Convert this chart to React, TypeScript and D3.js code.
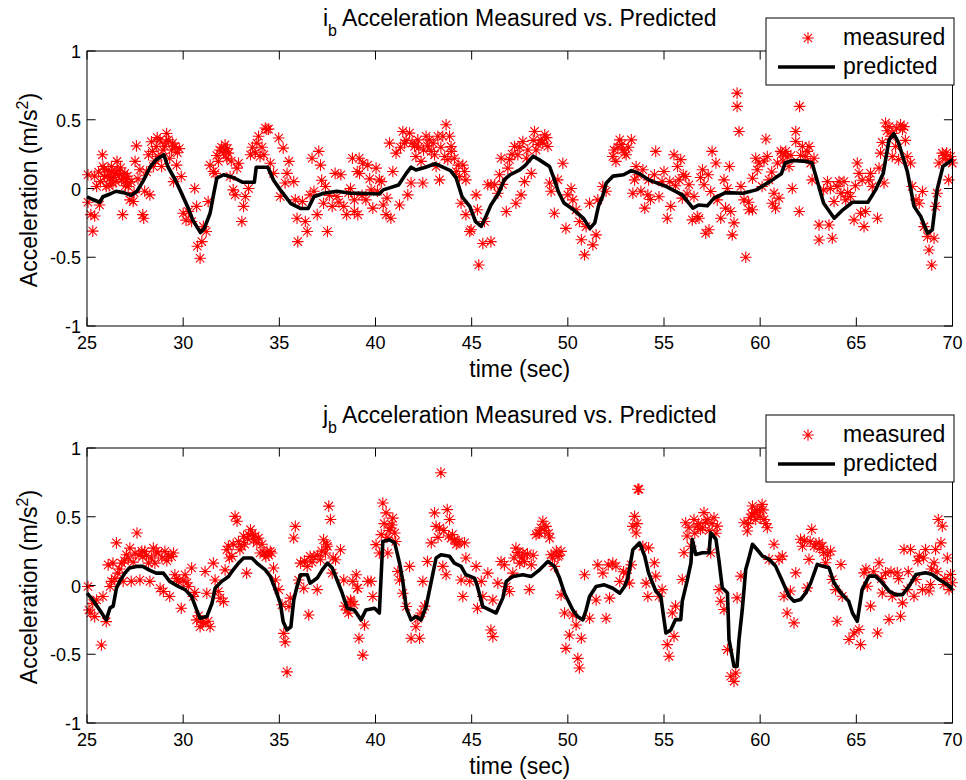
import React from "react";
import * as d3 from "d3";

const xTicks = [25, 30, 35, 40, 45, 50, 55, 60, 65, 70];
const yTicks = [-1, -0.5, 0, 0.5, 1];
const yTickLabels = ["-1", "-0.5", "0", "0.5", "1"];
const legendLabels = ["measured", "predicted"];
const titles = ["i", "j"];

const topMeasured: [number, number][] = [
  [25.05,0.10],[25.05,-0.10],[25.2,-0.19],[25.3,-0.31],[25.4,-0.20],[25.4,0.09],[25.5,0.015],[25.65,-0.12],[25.8,0.245],[25.83,0.16],[25.92,0.087],[26.0,0.015],[26.1,0.136],[26.2,0.075],[26.27,0.16],[26.35,0.04],[26.45,0.11],[26.56,0.197],[26.7,0.10],[26.8,0.063],[26.85,-0.19],[26.97,0.11],[27.05,0.063],[27.14,0.015],[27.23,-0.083],[27.4,-0.095],[27.5,0.197],[27.57,0.31],[27.75,0.136],[27.9,-0.19],[27.95,-0.216],[28.0,-0.02],[28.2,0.245],[28.27,-0.046],[28.35,0.34],[28.45,0.16],[28.6,0.306],[28.7,0.233],[28.8,0.354],[28.88,0.16],[29.05,0.306],[29.14,0.40],[29.23,0.354],[29.4,0.28],[29.5,0.05],[29.57,0.306],[29.66,0.17],[29.8,0.29],[29.9,0.087],[30.0,-0.18],[30.15,-0.23],[30.27,-0.167],[30.44,-0.24],[30.6,0.0],[30.7,-0.13],[30.74,-0.42],[30.88,-0.507],[30.97,-0.386],[31.05,-0.277],[31.2,-0.313],[31.3,-0.095],[31.4,0.17],[31.57,0.124],[31.66,0.11],[31.83,0.197],[31.9,0.28],[32.1,0.257],[32.18,0.318],[32.27,0.22],[32.35,0.257],[32.44,0.087],[32.6,-0.01],[32.7,-0.046],[32.8,0.148],[32.88,0.184],[33.05,-0.24],[33.14,-0.13],[33.23,-0.058],[33.4,0.0],[33.5,0.245],[33.83,0.33],[33.92,0.38],[34.0,0.233],[34.2,0.245],[34.27,0.44],[34.44,0.432],[34.53,0.184],[34.7,0.11],[34.97,0.367],[35.05,-0.058],[35.2,0.294],[35.3,0.04],[35.5,0.197],[35.75,0.05],[35.83,-0.083],[35.92,-0.216],[35.96,-0.386],[36.2,-0.095],[36.35,-0.24],[36.45,-0.313],[36.6,-0.046],[36.7,0.22],[36.97,-0.19],[37.05,0.27],[37.14,0.17],[37.3,-0.107],[37.4,0.015],[37.5,-0.313],[37.75,-0.13],[37.9,0.11],[38.0,-0.058],[38.2,0.10],[38.35,-0.13],[38.5,-0.19],[38.7,0.0],[38.9,-0.083],[39.05,0.124],[39.15,0.22],
  [38.8,0.22],[38.9,-0.167],[39.08,-0.19],[39.17,0.11],[39.34,0.184],[39.5,-0.083],[39.6,0.17],[39.77,-0.01],[39.86,-0.143],[40.03,0.148],[40.2,0.063],[40.4,-0.12],[40.55,-0.19],[40.73,0.33],[40.8,-0.216],[40.9,0.124],[41.07,0.257],[41.25,-0.12],[41.42,0.415],[41.5,0.33],[41.68,-0.046],[41.77,0.403],[41.85,0.04],[42.03,0.306],[42.1,0.233],[42.2,0.354],[42.37,0.197],[42.46,0.04],[42.63,0.38],[42.8,0.354],[43.07,0.245],[43.15,0.16],[43.24,0.38],[43.33,0.063],[43.5,0.38],[43.6,0.233],[43.67,0.464],[43.76,0.21],[43.85,0.38],[43.93,0.306],[44.1,0.22],[44.2,0.124],[44.37,0.087],[44.54,0.17],[44.63,0.124],[44.7,0.063],[44.45,-0.107],[44.7,-0.19],[44.9,-0.313],[44.97,-0.30],[45.23,-0.046],[45.3,-0.155],[45.37,-0.556],[45.58,-0.40],[45.67,-0.24],[45.84,0.027],[46.0,-0.386],[46.0,0.027],[46.2,0.027],[46.36,-0.034],[46.53,0.22],[46.8,-0.167],[46.88,0.148],[46.97,0.21],[47.23,0.306],[47.3,-0.107],[47.4,0.245],[47.57,-0.046],[47.66,0.342],[47.75,0.05],[47.92,0.28],[48.1,0.11],[48.27,0.415],[48.35,0.28],[48.6,0.354],[48.8,0.39],[48.96,0.306],[49.05,0.04],[49.13,-0.02],[49.3,-0.18],[49.48,0.063],[49.74,0.184],[49.9,-0.29],[50.0,-0.046],[50.17,0.0],[50.26,-0.083],[50.43,-0.155],[50.6,-0.24],[50.7,-0.373],[50.87,-0.483],[50.95,-0.277],[51.13,-0.107],[51.3,-0.41],[51.47,-0.337],[51.56,-0.083],[51.82,0.015],[51.99,-0.02],[52.34,0.233],[52.5,0.197],[52.7,0.354],[52.86,0.28],[53.03,0.245],[53.3,0.354],[53.38,-0.034],[53.47,0.063],[53.55,0.16],[53.8,-0.02],[53.9,0.136],[54.0,-0.143],[54.16,-0.046],
  [54.2,0.063],[54.3,-0.08],[54.5,0.10],[54.57,0.27],[54.74,-0.06],[54.9,0.05],[55.0,0.124],[55.17,-0.216],[55.35,-0.13],[55.52,0.245],[55.7,0.16],[55.78,0.063],[55.87,0.21],[55.95,-0.07],[56.13,0.087],[56.3,0.027],[56.47,-0.228],[56.56,-0.058],[56.73,-0.204],[56.82,-0.216],[57.0,0.136],[57.08,0.027],[57.17,-0.325],[57.34,-0.30],[57.43,-0.022],[57.5,0.27],[57.7,0.185],[57.77,-0.083],[57.95,-0.216],[58.12,0.063],[58.2,-0.143],[58.4,0.16],[58.47,-0.167],[58.55,-0.337],[58.64,-0.25],[58.8,0.694],[58.8,0.597],[58.9,0.415],[59.0,0.015],[59.16,-0.083],[59.25,-0.50],[59.42,-0.155],[59.6,-0.155],[59.6,0.075],[59.77,0.22],[59.85,0.136],[59.94,0.185],[60.1,0.015],[60.3,0.36],[60.37,0.233],[60.46,0.063],[60.63,-0.107],[60.72,-0.034],[60.8,-0.143],[60.9,0.185],[60.98,-0.07],[61.07,0.27],[61.15,0.257],[61.33,0.27],[61.5,0.16],[61.67,0.0],[61.85,0.342],[61.85,0.415],[62.03,-0.167],[62.05,0.597],[62.2,0.306],[62.37,0.233],[62.54,0.306],[62.63,0.185],[62.7,0.063],[63.06,-0.265],[63.06,-0.374],[63.3,-0.01],[63.5,0.05],[63.58,-0.265],[63.75,-0.362],[63.84,-0.095],[64.0,0.015],[64.2,-0.034],[64.36,0.05],[64.45,-0.083],[64.7,-0.058],[64.88,-0.228],[65.05,0.185],[65.14,0.11],[65.22,-0.18],[65.4,-0.277],[65.48,-0.167],[65.66,0.063],[65.74,0.11],[65.83,0.015],[66.1,-0.216],[66.18,0.148],[66.26,0.257],[66.35,0.335],[66.44,0.04],[66.52,0.476],[66.7,0.45],[66.78,0.38],[66.87,0.233],[67.04,0.306],[67.2,0.21],[67.3,0.464],[67.48,0.45],[67.65,0.233],[67.82,0.185],[67.9,0.015],[68.1,-0.083],[68.27,-0.107],[68.44,-0.022],[68.52,-0.277],[68.7,-0.35],[68.78,-0.447],[68.92,-0.556],[69.04,-0.362],[69.12,-0.13],[69.2,-0.034],[69.3,0.185],[69.47,0.257],[69.65,0.22],[69.8,0.063],[69.9,0.233],[69.99,0.185]
];

const topMeasuredDense: [number, number][] = [
  [25.6,0.12],[25.7,0.05],[25.9,0.14],[26.05,0.09],[26.15,0.02],[26.3,0.12],[26.4,0.08],[26.5,0.05],[26.6,0.13],[26.75,0.15],[26.9,0.07],[27.0,0.02],[27.1,0.09],[27.3,0.05],[27.45,-0.03],[27.65,0.07],[28.1,0.12],[28.4,0.27],[28.55,0.2],[28.65,0.37],[28.95,0.28],[29.1,0.34],[29.3,0.22],[29.45,0.33],[29.7,0.26],[31.75,0.24],[32.0,0.3],[32.2,0.27],[32.3,0.29],[32.5,0.2],[33.6,0.3],[33.75,0.26],[34.1,0.3],[34.35,0.43],[35.4,0.11],[36.8,-0.02],[37.2,0.06],[37.6,-0.05],[38.1,-0.1],[38.6,-0.03],[39.3,-0.05],[39.7,0.07],[40.1,-0.02],[40.3,0.05],[40.6,-0.07],[41.3,0.3],[41.6,0.35],[41.9,0.33],[42.25,0.3],[42.5,0.28],[42.7,0.31],[42.9,0.27],[43.0,0.33],[43.4,0.3],[43.95,0.27],[44.3,0.17],[46.6,0.03],[46.45,0.1],[47.1,0.25],[47.5,0.3],[47.85,0.22],[48.2,0.35],[48.45,0.32],[48.7,0.33],[48.9,0.37],[52.4,0.28],[52.6,0.3],[52.8,0.32],[52.95,0.26],[53.15,0.3],[53.65,0.1],[55.3,0.05],[55.6,0.02],[56.0,0.1],[56.2,-0.04],[56.9,0.08],[57.3,0.1],[58.3,0.0],[59.4,-0.1],[60.2,0.2],[60.6,0.12],[61.2,0.2],[61.4,0.23],[61.6,0.24],[62.1,0.24],[62.45,0.27],[62.8,0.22],[63.65,0.0],[64.1,0.05],[64.55,-0.03],[64.95,0.02],[65.3,0.06],[66.6,0.42],[66.9,0.4],[67.1,0.44],[67.4,0.43],[67.55,0.35],[69.55,0.24],[69.7,0.26],[69.85,0.2]
];

const topPredicted: [number, number][] = [
  [25,-0.06],[25.3,-0.08],[25.66,-0.10],[25.83,-0.06],[26.2,-0.04],[26.5,-0.02],[26.9,-0.03],[27.3,-0.05],[27.6,-0.02],[27.9,0.05],[28.3,0.16],[28.6,0.21],[29.0,0.245],[29.2,0.16],[29.6,0.06],[29.9,-0.03],[30.3,-0.155],[30.5,-0.23],[30.9,-0.32],[31.1,-0.29],[31.4,-0.18],[31.6,-0.03],[31.75,0.075],[32.1,0.10],[32.6,0.08],[33.1,0.045],[33.7,0.045],[33.8,0.155],[34.4,0.155],[34.7,0.06],[35.05,-0.01],[35.6,-0.11],[36.1,-0.145],[36.5,-0.145],[36.8,-0.06],[37.3,-0.035],[38.0,-0.02],[38.7,-0.035],[39.2,-0.035],[40.2,-0.04],[40.4,-0.01],[41.2,0.025],[41.6,0.11],[41.85,0.155],[42.1,0.135],[42.6,0.155],[43.1,0.18],[43.5,0.155],[43.9,0.13],[44.2,0.075],[44.5,-0.06],[44.9,-0.13],[45.2,-0.24],[45.5,-0.275],[45.75,-0.2],[46.0,-0.12],[46.4,-0.035],[46.7,0.065],[47.0,0.10],[47.5,0.135],[47.8,0.17],[48.2,0.235],[48.5,0.21],[49.05,0.16],[49.3,0.065],[49.5,-0.02],[49.8,-0.105],[50.3,-0.155],[50.8,-0.215],[51.15,-0.29],[51.4,-0.25],[51.6,-0.125],[51.8,-0.06],[52.0,0.04],[52.35,0.09],[52.9,0.10],[53.3,0.13],[53.7,0.11],[54.2,0.063],[55.1,0.015],[55.95,-0.046],[56.5,-0.143],[56.8,-0.12],[57.25,-0.126],[57.6,-0.07],[58.2,-0.03],[59.1,-0.034],[59.8,-0.01],[60.5,0.05],[61.1,0.107],[61.3,0.185],[61.7,0.204],[62.4,0.197],[62.7,0.185],[63.05,0.015],[63.3,-0.107],[63.85,-0.216],[64.3,-0.155],[64.8,-0.10],[65.6,-0.10],[66.0,-0.01],[66.4,0.11],[66.7,0.354],[66.95,0.398],[67.2,0.33],[67.65,0.124],[68.0,-0.13],[68.35,-0.204],[68.7,-0.325],[68.95,-0.30],[69.2,-0.01],[69.5,0.16],[70.0,0.21]
];

const bottomMeasured: [number, number][] = [
  [25.05,-0.007],[25.1,-0.178],[25.2,-0.2],[25.3,-0.13],[25.4,-0.226],[25.5,-0.105],[25.75,-0.433],[25.83,-0.08],[26.0,-0.263],[26.1,0.15],[26.2,-0.007],[26.27,0.03],[26.35,0.163],[26.53,0.31],[26.6,0.09],[26.8,0.163],[26.88,0.03],[27.05,0.224],[27.23,0.272],[27.3,0.03],[27.5,0.236],[27.6,0.382],[27.75,0.04],[27.9,0.212],[28.0,0.248],[28.2,0.163],[28.27,0.03],[28.45,0.272],[28.53,0.163],[28.7,0.236],[28.8,-0.02],[28.97,-0.044],[29.05,0.248],[29.23,0.212],[29.3,-0.08],[29.5,0.236],[29.57,0.078],[29.75,0.03],[29.9,-0.165],[30.1,0.078],[30.27,-0.007],[30.44,0.127],[30.53,-0.08],[30.7,-0.25],[30.88,-0.3],[31.05,-0.263],[31.14,0.102],[31.23,-0.056],[31.4,-0.3],[31.57,0.163],[31.66,0.04],[31.83,-0.044],[31.92,-0.092],[32.1,-0.117],[32.18,0.114],[32.27,0.26],[32.35,0.285],[32.53,0.212],[32.7,0.503],[32.8,0.467],[32.88,0.32],[33.05,0.285],[33.14,0.358],[33.3,0.09],[33.4,0.37],[33.5,0.406],[33.66,0.333],[33.83,0.31],[33.92,0.345],[34.0,0.236],[34.2,0.236],[34.36,0.248],[34.53,0.248],[34.6,0.236],[34.7,0.127],[34.8,0.04],[34.97,-0.03],[35.14,-0.14],[35.23,-0.348],[35.3,-0.41],[35.4,-0.628],[35.5,-0.153],[35.57,-0.092],[35.75,0.345],[35.83,0.43],[36.0,0.04],[36.1,0.163],[36.27,-0.02],[36.45,0.139],[36.53,-0.214],[36.6,0.212],[36.8,0.212],[36.97,-0.03],[37.14,0.187],[37.3,0.333],[37.4,0.236],[37.5,0.285],[37.57,0.577],[37.66,0.48],[37.75,0.09],[37.92,0.187],[38.18,0.26],[38.35,0.04],[38.53,-0.178],[38.7,-0.105],[38.88,-0.14],[39.05,-0.02],[39.14,-0.384],
  [38.73,-0.117],[38.82,0.03],[39.0,0.078],[39.08,-0.02],[39.34,-0.506],[39.43,-0.287],[39.6,0.03],[39.77,0.03],[39.86,-0.08],[40.03,0.297],[40.2,0.236],[40.3,0.37],[40.38,0.6],[40.55,0.528],[40.64,0.236],[40.8,0.418],[40.9,0.49],[41.0,0.382],[41.16,0.102],[41.25,0.04],[41.42,-0.056],[41.6,-0.153],[41.77,0.139],[41.85,-0.384],[42.1,-0.3],[42.29,-0.384],[42.37,-0.2],[42.46,0.03],[42.7,0.175],[42.9,0.31],[43.07,0.528],[43.15,0.43],[43.33,0.418],[43.4,0.82],[43.5,0.139],[43.67,0.078],[43.73,0.552],[43.85,0.48],[43.93,0.345],[44.1,0.333],[44.28,0.31],[44.45,0.04],[44.63,0.31],[44.54,-0.08],[44.7,0.2],[44.9,0.03],[45.23,0.139],[45.3,-0.165],[45.5,0.03],[45.58,-0.08],[45.84,0.09],[46.0,-0.324],[46.1,-0.372],[46.1,-0.105],[46.36,0.017],[46.53,0.175],[46.7,0.15],[46.8,-0.007],[46.97,-0.044],[47.14,0.09],[47.3,0.272],[47.5,0.163],[47.66,0.236],[47.75,0.175],[48.0,-0.03],[48.1,0.15],[48.35,0.37],[48.53,0.382],[48.7,0.467],[48.87,0.43],[49.05,0.345],[49.13,0.224],[49.3,0.139],[49.48,0.212],[49.65,0.248],[49.65,-0.068],[49.83,-0.2],[49.9,-0.457],[50.08,-0.36],[50.26,-0.214],[50.43,-0.287],[50.52,-0.53],[50.6,-0.6],[50.7,-0.384],[50.87,0.078],[51.13,-0.238],[51.47,-0.105],[51.56,0.15],[51.82,0.09],[51.99,-0.238],[52.17,-0.092],[52.34,0.163],[52.7,0.03],[53.03,0.09],[53.2,0.017],[53.38,0.43],[53.47,0.503],[53.64,0.7],[53.7,0.7],[53.55,0.382],[53.9,0.285],[54.07,0.017],[54.16,-0.08],
  [54.2,0.274],[54.5,0.165],[54.57,0.068],[54.74,-0.078],[54.9,-0.03],[55.17,-0.43],[55.26,-0.515],[55.43,-0.2],[55.52,-0.37],[55.6,-0.15],[55.95,0.044],[56.04,0.238],[56.13,0.456],[56.2,0.36],[56.4,0.286],[56.56,0.48],[56.73,0.432],[56.9,0.408],[57.08,0.53],[57.25,0.48],[57.43,0.238],[57.6,0.493],[57.77,0.432],[57.86,-0.03],[57.95,-0.114],[58.12,-0.175],[58.3,-0.466],[58.47,-0.66],[58.64,-0.697],[58.73,-0.636],[58.8,-0.09],[59.0,0.068],[59.16,0.456],[59.33,0.396],[59.5,0.493],[59.6,0.578],[59.77,0.48],[59.94,0.553],[60.1,0.59],[60.2,0.48],[60.37,0.42],[60.46,0.19],[60.72,0.3],[60.98,0.19],[61.15,0.214],[61.24,-0.078],[61.4,-0.2],[61.57,-0.04],[61.76,-0.272],[61.85,0.092],[62.1,0.336],[62.2,0.286],[62.45,-0.017],[62.54,0.19],[62.68,0.408],[62.8,0.286],[63.06,0.31],[63.23,0.286],[63.4,0.165],[63.66,0.25],[63.75,0.044],[63.92,-0.03],[64.0,-0.26],[64.2,0.153],[64.27,-0.078],[64.62,-0.393],[64.88,-0.345],[65.14,-0.32],[65.22,-0.43],[65.4,0.092],[65.57,-0.005],[65.74,-0.15],[66.1,-0.345],[66.18,0.165],[66.35,-0.054],[66.52,0.092],[66.7,-0.248],[66.87,-0.078],[67.13,0.092],[67.3,-0.224],[67.4,-0.126],[67.48,0.262],[67.65,-0.03],[67.82,0.262],[68.0,-0.078],[68.1,0.044],[68.27,0.214],[68.44,-0.03],[68.6,0.262],[68.78,-0.04],[68.86,0.007],[69.04,0.165],[69.12,0.262],[69.26,0.48],[69.4,0.31],[69.47,0.432],[69.55,0.007],[69.73,0.2],[69.82,-0.03],[69.98,0.02]
];

const bottomMeasuredDense: [number, number][] = [
  [26.45,0.05],[26.7,0.12],[26.95,0.18],[27.15,0.2],[27.4,0.17],[27.7,0.22],[27.85,0.25],[28.1,0.22],[28.35,0.2],[28.6,0.25],[28.9,0.2],[29.15,0.18],[29.4,0.21],[29.65,0.05],[30.0,0.04],[30.2,0.02],[30.6,-0.05],[30.8,-0.22],[31.0,-0.27],[31.3,-0.26],[32.4,0.2],[32.6,0.3],[32.95,0.26],[33.2,0.3],[33.35,0.34],[33.6,0.38],[33.75,0.36],[34.1,0.3],[34.3,0.21],[34.45,0.22],[36.3,0.18],[36.7,0.17],[37.0,0.22],[37.2,0.25],[37.45,0.3],[37.8,0.2],[38.4,-0.15],[38.6,-0.2],[40.45,0.45],[40.6,0.35],[40.7,0.4],[40.85,0.44],[41.05,0.32],[42.2,-0.24],[42.55,-0.15],[43.25,0.35],[43.55,0.4],[43.8,0.36],[44.0,0.37],[44.2,0.3],[44.35,0.32],[47.2,0.2],[47.4,0.24],[47.6,0.2],[47.9,0.23],[48.2,0.22],[48.45,0.38],[48.6,0.42],[48.8,0.4],[49.0,0.38],[49.2,0.2],[49.4,0.25],[49.55,0.22],[52.1,0.15],[52.5,0.14],[52.9,0.1],[53.3,0.15],[53.6,0.45],[56.3,0.42],[56.6,0.38],[56.8,0.45],[57.0,0.42],[57.15,0.46],[57.35,0.4],[57.5,0.45],[57.7,0.38],[59.4,0.45],[59.55,0.52],[59.7,0.53],[59.85,0.55],[60.0,0.5],[60.15,0.55],[60.3,0.45],[62.3,0.33],[62.6,0.32],[62.9,0.3],[63.1,0.27],[63.3,0.24],[63.5,0.22],[65.5,0.12],[65.9,0.1],[66.3,0.05],[66.8,0.1],[67.2,0.05],[67.7,0.1],[68.2,0.18],[68.5,0.2],[68.9,0.12],[69.2,0.1],[69.6,0.05],[69.9,0.08]
];

const bottomPredicted: [number, number][] = [
  [25.0,-0.056],[25.3,-0.105],[25.66,-0.178],[26.0,-0.25],[26.2,-0.163],[26.36,-0.15],[26.53,-0.02],[26.7,0.03],[26.97,0.09],[27.2,0.127],[27.57,0.139],[27.9,0.139],[28.27,0.11],[28.6,0.09],[28.97,0.09],[29.3,0.03],[29.75,-0.007],[30.1,-0.03],[30.44,-0.08],[30.7,-0.178],[30.88,-0.238],[31.23,-0.226],[31.5,-0.129],[31.66,-0.02],[32.0,0.03],[32.36,0.066],[32.6,0.114],[32.88,0.163],[33.14,0.2],[33.57,0.2],[33.83,0.163],[34.27,0.114],[34.53,0.066],[34.8,-0.03],[35.05,-0.129],[35.2,-0.263],[35.4,-0.323],[35.6,-0.3],[35.75,-0.105],[35.92,-0.007],[36.1,0.078],[36.45,0.078],[36.6,0.017],[36.97,0.054],[37.23,0.114],[37.5,0.163],[37.75,0.127],[38.0,0.04],[38.27,-0.056],[38.53,-0.165],[38.9,-0.178],[39.25,-0.25],[39.5,-0.178],[39.95,-0.165],[40.2,-0.2],[40.38,0.32],[40.73,0.333],[41.0,0.31],[41.25,0.163],[41.42,0.03],[41.6,-0.165],[41.85,-0.25],[42.1,-0.226],[42.37,-0.25],[42.63,-0.153],[42.9,0.03],[43.15,0.2],[43.4,0.224],[43.85,0.212],[44.1,0.163],[44.45,0.139],[44.7,0.078],[45.15,0.054],[45.3,-0.007],[45.58,-0.153],[45.93,-0.178],[46.27,-0.2],[46.62,-0.09],[46.8,0.03],[47.14,0.066],[47.66,0.078],[48.1,0.066],[48.53,0.114],[48.96,0.175],[49.3,0.139],[49.57,0.054],[49.83,-0.056],[50.0,-0.105],[50.26,-0.178],[50.5,-0.226],[50.78,-0.25],[50.95,-0.178],[51.13,-0.08],[51.47,-0.007],[51.9,0.005],[52.34,-0.02],[52.7,-0.056],[52.95,-0.007],[53.12,0.054],[53.38,0.26],[53.73,0.31],[54.0,0.212],[54.2,0.09],[54.57,-0.04],[54.83,-0.078],[55.1,-0.345],[55.35,-0.323],[55.6,-0.248],[55.87,-0.248],[55.95,-0.114],[56.2,0.032],[56.4,0.165],[56.47,0.336],[56.65,0.226],[57.0,0.238],[57.34,0.238],[57.43,0.384],[57.7,0.336],[57.86,0.178],[58.03,-0.017],[58.3,-0.054],[58.38,-0.394],[58.64,-0.589],[58.8,-0.589],[58.9,-0.394],[59.07,-0.175],[59.25,0.117],[59.42,0.202],[59.6,0.3],[59.85,0.26],[60.12,0.214],[60.46,0.19],[60.8,0.141],[61.15,0.032],[61.5,-0.078],[61.76,-0.114],[62.1,-0.102],[62.37,-0.054],[62.63,0.02],[62.97,0.153],[63.23,0.141],[63.58,0.129],[63.84,0.02],[64.2,-0.054],[64.6,-0.114],[64.8,-0.2],[65.05,-0.26],[65.3,-0.03],[65.66,0.068],[66.0,0.068],[66.35,0.02],[66.7,-0.04],[67.04,-0.066],[67.4,-0.066],[67.74,-0.005],[68.1,0.08],[68.6,0.092],[68.95,0.08],[69.3,0.044],[69.73,0.007],[70.0,-0.03]
];

const FONT = "'Liberation Sans', Arial, Helvetica, sans-serif";
const LEFT = 87;
const RIGHT = 952.5;
const TOP = 51;
const BOTTOM = 326;
const PANEL_SHIFT = 397;
const STAR_R = 5.8;

function starPath(cx: number, cy: number, r: number): string {
  const d = r * 0.72;
  return `M${cx - r},${cy}h${2 * r}M${cx},${cy - r}v${2 * r}M${cx - d},${cy - d}l${2 * d},${2 * d}M${cx - d},${cy + d}l${2 * d},${-2 * d}`;
}

function Panel({ shift, letter, measured, predicted }: { shift: number; letter: string; measured: [number, number][]; predicted: [number, number][] }) {
  const x = d3.scaleLinear().domain([25, 70]).range([LEFT, RIGHT]);
  const y = d3.scaleLinear().domain([-1, 1]).range([BOTTOM + shift, TOP + shift]);
  const top = TOP + shift;
  const bottom = BOTTOM + shift;
  const tickLen = 8.6;
  const line = d3.line<[number, number]>().x((d) => x(d[0])).y((d) => y(d[1]));
  const stars = measured.map((d) => starPath(x(d[0]), y(d[1]), STAR_R)).join("");
  const cx = (LEFT + RIGHT) / 2;
  return (
    <g fontFamily={FONT}>
      <rect x={LEFT} y={top} width={RIGHT - LEFT} height={bottom - top} fill="#fff" />
      {xTicks.map((t) => (
        <g key={"xt" + t}>
          <line x1={x(t)} x2={x(t)} y1={bottom} y2={bottom - tickLen} stroke="#000" strokeWidth={1} />
          <line x1={x(t)} x2={x(t)} y1={top} y2={top + tickLen} stroke="#000" strokeWidth={1} />
          <text x={x(t)} y={bottom + 23} fontSize={18} textAnchor="middle" fill="#000">{t}</text>
        </g>
      ))}
      {yTicks.map((v, i) => (
        <g key={"yt" + v}>
          <line x1={LEFT} x2={LEFT + tickLen} y1={y(v)} y2={y(v)} stroke="#000" strokeWidth={1} />
          <line x1={RIGHT} x2={RIGHT - tickLen} y1={y(v)} y2={y(v)} stroke="#000" strokeWidth={1} />
          <text x={81} y={y(v) + 7} fontSize={18} textAnchor="end" fill="#000">{yTickLabels[i]}</text>
        </g>
      ))}
      <path d={stars} stroke="#ff0000" strokeWidth={1.1} fill="none" />
      <path d={line(predicted) || ""} stroke="#000" strokeWidth={3.6} fill="none" strokeLinejoin="round" />
      <rect x={LEFT} y={top} width={RIGHT - LEFT} height={bottom - top} fill="none" stroke="#000" strokeWidth={1} />
      <text x={cx} y={26 + shift} fontSize={23} textAnchor="middle" fill="#000">
        {letter}
        <tspan dy={10} fontSize={16}>b</tspan>
        <tspan dy={-10}>{" Acceleration Measured vs. Predicted"}</tspan>
      </text>
      <text x={cx} y={377 + shift} fontSize={23} textAnchor="middle" fill="#000">time (sec)</text>
      <text transform={`translate(37,${190 + shift}) rotate(-90)`} fontSize={23} textAnchor="middle" fill="#000">
        Acceleration (m/s
        <tspan dy={-9} fontSize={16}>2</tspan>
        <tspan dy={9}>)</tspan>
      </text>
      <g>
        <rect x={766} y={18 + shift} width={188} height={67} fill="#fff" stroke="#000" strokeWidth={1} />
        <path d={starPath(808, 38 + shift, STAR_R)} stroke="#ff0000" strokeWidth={1.1} fill="none" />
        <text x={843} y={45 + shift} fontSize={23} fill="#000">{legendLabels[0]}</text>
        <line x1={778} x2={835} y1={67 + shift} y2={67 + shift} stroke="#000" strokeWidth={3.6} />
        <text x={843} y={74 + shift} fontSize={23} fill="#000">{legendLabels[1]}</text>
      </g>
    </g>
  );
}

export default function App() {
  return (
    <svg width={966} height={780} viewBox="0 0 966 780" style={{ position: "absolute", left: 0, top: 0, background: "#fff" }}>
      <rect x={0} y={0} width={966} height={780} fill="#fff" />
      <Panel shift={0} letter={titles[0]} measured={[...topMeasured, ...topMeasuredDense]} predicted={topPredicted} />
      <Panel shift={PANEL_SHIFT} letter={titles[1]} measured={[...bottomMeasured, ...bottomMeasuredDense]} predicted={bottomPredicted} />
    </svg>
  );
}
